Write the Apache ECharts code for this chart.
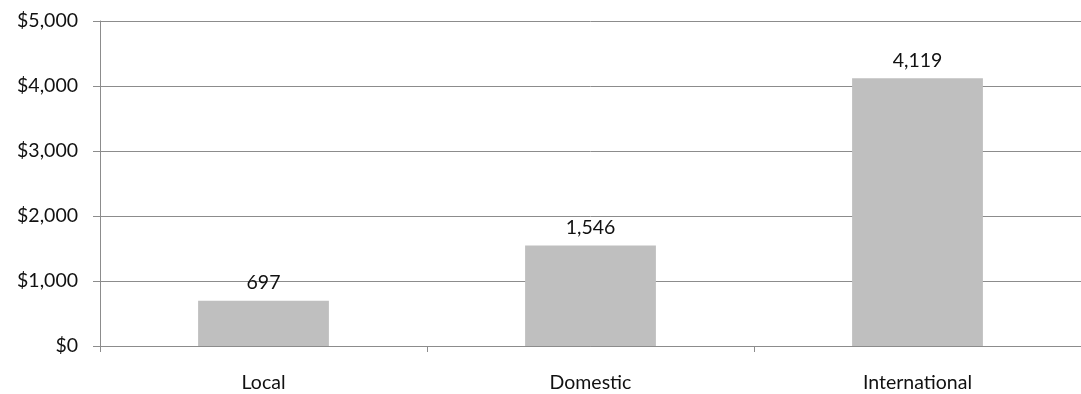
<!DOCTYPE html>
<html>
<head>
<meta charset="utf-8">
<script src="https://cdn.jsdelivr.net/npm/echarts@6/dist/echarts.min.js"></script>
<style>
html,body{margin:0;padding:0;background:#fff;}
#chart{width:1081px;height:394px;}
</style>
</head>
<body>
<div id="chart"></div>
<script>
const categories = ['Local', 'Domestic', 'International'];
const values = [697, 1546, 4119];
const yTicks = { min: 0, max: 5000, interval: 1000 };

const chart = echarts.init(document.getElementById('chart'), null, { renderer: 'canvas' });
const fontFamily = 'Lato, "Open Sans", sans-serif';
chart.setOption({
  animation: false,
  backgroundColor: '#ffffff',
  grid: { left: 100, right: -5, top: 21, bottom: 48, containLabel: false },
  xAxis: {
    type: 'category',
    data: categories,
    axisLine: { lineStyle: { color: '#8c8c8c', width: 1 } },
    axisTick: { show: true, alignWithLabel: false, length: 6, lineStyle: { color: '#8c8c8c' } },
    axisLabel: { color: '#111111', fontSize: 19.5, fontFamily: fontFamily, margin: 27 },
    splitLine: { show: false }
  },
  yAxis: {
    type: 'value',
    min: yTicks.min,
    max: yTicks.max,
    interval: yTicks.interval,
    axisLine: { show: true, lineStyle: { color: '#8c8c8c', width: 1 } },
    axisTick: { show: true, length: 7, lineStyle: { color: '#8c8c8c' } },
    axisLabel: {
      color: '#111111', fontSize: 19.5, fontFamily: fontFamily, margin: 22,
      formatter: v => '$' + v.toLocaleString('en-US')
    },
    splitLine: { show: true, lineStyle: { color: '#8c8c8c', width: 1 } }
  },
  series: [{
    type: 'bar',
    data: values,
    barWidth: '40%',
    itemStyle: { color: '#bfbfbf' },
    label: {
      show: true,
      position: 'top',
      distance: 8,
      color: '#111111',
      fontSize: 19.5,
      fontFamily: fontFamily,
      formatter: p => p.value.toLocaleString('en-US')
    }
  }]
});
</script>
</body>
</html>
